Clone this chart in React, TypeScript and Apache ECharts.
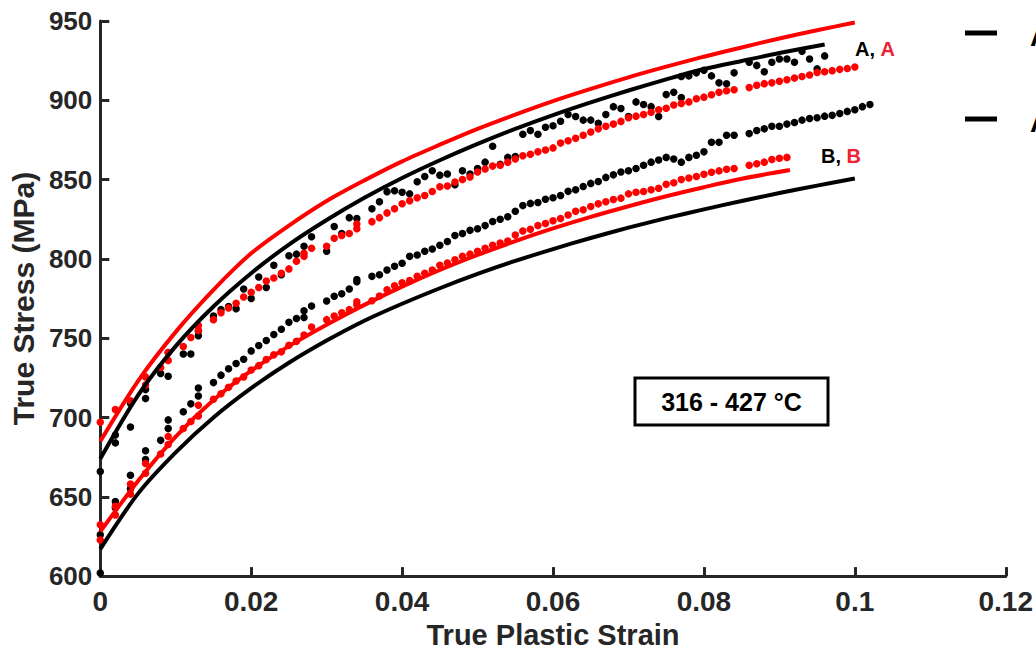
import React, { useEffect, useRef } from "react";
import * as echarts from "echarts";

// Fitted model curves [true plastic strain, true stress MPa]
const fitRedA: [number, number][] = [
  [0, 685], [0.005, 723], [0.01, 754], [0.015, 780.5], [0.02, 803.5], [0.025, 821], [0.03, 836.5],
  [0.035, 849.5], [0.04, 861.5], [0.045, 872], [0.05, 882], [0.055, 891], [0.06, 899.5], [0.065, 907.2],
  [0.07, 914.5], [0.075, 921.2], [0.08, 927.5], [0.085, 933.3], [0.09, 939], [0.095, 944.2], [0.1, 949],
];
const fitBlackA: [number, number][] = [
  [0, 674], [0.005, 714], [0.01, 745], [0.015, 770], [0.02, 791], [0.025, 809], [0.03, 824.5],
  [0.035, 838.5], [0.04, 851], [0.045, 862.2], [0.05, 872.5], [0.055, 882], [0.06, 890.7], [0.065, 898.7],
  [0.07, 906.2], [0.075, 913.2], [0.08, 919.7], [0.085, 924.8], [0.09, 929.8], [0.096, 935.2],
];
const fitRedB: [number, number][] = [
  [0, 628], [0.005, 660], [0.01, 688], [0.015, 711], [0.02, 729.5], [0.025, 745], [0.03, 758.5],
  [0.035, 771], [0.04, 782.5], [0.045, 793], [0.05, 802.5], [0.055, 811.2], [0.06, 819.2], [0.065, 826.5],
  [0.07, 833.2], [0.075, 839.5], [0.08, 845.2], [0.085, 850.5], [0.0914, 856],
];
const fitBlackB: [number, number][] = [
  [0, 617], [0.005, 652], [0.01, 678], [0.015, 700], [0.02, 718.5], [0.025, 734.5], [0.03, 748.5],
  [0.035, 761], [0.04, 771.7], [0.045, 781.5], [0.05, 790.5], [0.055, 798.7], [0.06, 806.2], [0.065, 813.2],
  [0.07, 819.7], [0.075, 825.7], [0.08, 831.2], [0.085, 836.5], [0.09, 841.5], [0.095, 846.2], [0.1, 850.7],
];

// Experimental data points
const expRedA: [number, number][] = [
  [0, 697], [0.002, 705], [0.004, 710.5], [0.006, 720.5], [0.006, 725.6], [0.008, 731.6], [0.009, 736], [0.009, 741],
  [0.011, 744.8], [0.012, 750.4], [0.013, 754.8], [0.013, 758], [0.015, 761.7], [0.016, 766], [0.017, 769], [0.018, 772],
  [0.019, 776], [0.02, 779], [0.021, 782], [0.022, 786], [0.023, 788], [0.024, 791], [0.025, 793.7], [0.026, 798.5],
  [0.027, 801.6], [0.027, 803.6], [0.028, 806.7], [0.03, 808], [0.031, 813], [0.032, 814.8], [0.033, 816], [0.034, 819],
  [0.034, 822], [0.036, 823.5], [0.037, 826], [0.038, 829], [0.039, 831.6], [0.04, 834.8], [0.041, 836.6], [0.042, 838.5],
  [0.043, 840], [0.044, 842.5], [0.045, 845.5], [0.046, 846], [0.047, 848.5], [0.048, 850], [0.049, 851.7], [0.05, 854.8],
  [0.051, 856.7], [0.052, 858.5], [0.053, 859], [0.054, 861], [0.055, 863], [0.056, 865], [0.057, 866], [0.058, 867.5],
  [0.059, 868.7], [0.06, 870], [0.061, 873], [0.062, 874.5], [0.063, 876], [0.064, 878], [0.065, 880], [0.066, 882],
  [0.067, 883.6], [0.068, 885], [0.069, 886.7], [0.07, 889], [0.071, 890], [0.072, 891], [0.073, 892.5], [0.074, 894],
  [0.075, 895], [0.076, 897], [0.077, 898], [0.078, 899], [0.079, 901], [0.08, 902], [0.081, 903.5], [0.082, 905],
  [0.083, 906], [0.084, 906.7], [0.086, 908], [0.087, 909.5], [0.088, 910.5], [0.089, 911], [0.09, 912], [0.091, 913],
  [0.092, 914], [0.093, 915], [0.094, 916], [0.095, 917.5], [0.096, 918], [0.097, 918.7], [0.098, 919.5], [0.099, 920],
  [0.1, 921],
];
const expBlackA: [number, number][] = [
  [0, 666], [0.002, 689], [0.002, 684], [0.004, 694], [0.004, 709], [0.006, 712], [0.006, 717.6], [0.008, 727.7],
  [0.009, 726], [0.009, 741], [0.011, 740], [0.012, 740], [0.013, 751.6], [0.013, 754.6], [0.015, 764], [0.016, 768],
  [0.017, 770], [0.018, 768.6], [0.019, 781], [0.02, 775], [0.021, 788.6], [0.022, 782], [0.023, 796], [0.024, 790],
  [0.025, 802], [0.026, 803], [0.027, 808], [0.028, 814], [0.03, 804.8], [0.031, 820.4], [0.032, 816], [0.033, 826],
  [0.034, 825.4], [0.036, 831.6], [0.037, 836], [0.038, 842.4], [0.039, 843], [0.04, 842], [0.041, 841], [0.042, 848.6],
  [0.043, 852], [0.044, 855.6], [0.045, 852.8], [0.046, 853.5], [0.047, 846.7], [0.048, 855.6], [0.049, 853.5], [0.05, 857],
  [0.051, 861], [0.052, 871], [0.053, 859.6], [0.054, 864], [0.055, 864.6], [0.056, 878.6], [0.057, 881], [0.058, 878.6],
  [0.059, 883], [0.06, 884], [0.061, 886.8], [0.062, 891], [0.063, 889.8], [0.064, 887.5], [0.065, 887.5], [0.066, 885.5],
  [0.067, 891], [0.068, 896], [0.069, 894.8], [0.07, 889.8], [0.071, 899], [0.072, 897.3], [0.073, 896], [0.074, 889.8],
  [0.075, 903.6], [0.076, 905], [0.077, 901.7], [0.077, 915], [0.078, 915.4], [0.079, 917.3], [0.08, 919], [0.081, 915.4],
  [0.082, 911], [0.083, 910.4], [0.084, 917.3], [0.086, 924], [0.087, 922], [0.088, 918], [0.089, 924], [0.09, 926],
  [0.091, 926], [0.092, 924], [0.093, 931], [0.094, 926], [0.095, 919.8], [0.096, 928],
];
const expBlackB: [number, number][] = [
  [0, 626], [0, 602], [0.002, 647], [0.002, 643], [0.004, 663.6], [0.004, 655], [0.006, 679], [0.006, 673.5],
  [0.008, 685.6], [0.009, 698.5], [0.009, 693], [0.011, 703.6], [0.012, 708.6], [0.013, 718.6], [0.013, 713.6], [0.015, 722],
  [0.016, 726.7], [0.017, 730.7], [0.018, 734], [0.019, 736.7], [0.02, 742], [0.021, 745.4], [0.022, 748.5], [0.023, 752.3],
  [0.024, 755.6], [0.025, 760], [0.026, 762.4], [0.027, 767.3], [0.027, 763], [0.028, 770.3], [0.03, 773.5], [0.031, 776.5],
  [0.032, 778], [0.033, 781], [0.034, 785.6], [0.034, 787], [0.036, 789], [0.037, 790], [0.038, 793], [0.039, 795.4],
  [0.04, 797.3], [0.041, 801.6], [0.042, 802.5], [0.043, 804.8], [0.044, 806.2], [0.045, 808.6], [0.046, 811], [0.047, 814.8],
  [0.048, 816], [0.049, 818], [0.05, 819], [0.051, 821], [0.052, 823.6], [0.053, 825], [0.054, 826.6], [0.055, 830],
  [0.056, 833.6], [0.057, 835], [0.058, 835.6], [0.059, 837.6], [0.06, 838.6], [0.061, 840], [0.062, 842.6], [0.063, 843.6],
  [0.064, 845.7], [0.065, 847.6], [0.066, 848.8], [0.067, 851.4], [0.068, 853], [0.069, 854.8], [0.07, 855.6], [0.071, 857],
  [0.072, 859], [0.073, 861], [0.074, 862.4], [0.075, 864], [0.076, 863], [0.077, 861], [0.078, 864], [0.079, 865.4],
  [0.08, 867.5], [0.081, 873.5], [0.082, 873.5], [0.083, 878], [0.084, 878], [0.086, 879], [0.087, 881], [0.088, 882],
  [0.089, 883.6], [0.09, 883.6], [0.091, 885], [0.092, 886], [0.093, 887.5], [0.094, 888.5], [0.095, 889], [0.096, 890],
  [0.097, 890.5], [0.098, 891.7], [0.099, 893], [0.1, 894], [0.101, 896], [0.102, 897.3],
];
const expRedB: [number, number][] = [
  [0, 632.4], [0, 622.8], [0.002, 638.6], [0.002, 644], [0.004, 651.7], [0.004, 658], [0.006, 664.8], [0.006, 671],
  [0.008, 677], [0.009, 683], [0.009, 688], [0.011, 693], [0.012, 697.5], [0.013, 701], [0.013, 707.7], [0.015, 711.5],
  [0.016, 715], [0.017, 719], [0.018, 723], [0.019, 725.6], [0.02, 730], [0.021, 732.7], [0.022, 736.5], [0.023, 739.5],
  [0.024, 741.4], [0.025, 745.5], [0.026, 748], [0.027, 752], [0.028, 757], [0.03, 761.7], [0.031, 764], [0.032, 766],
  [0.033, 768], [0.034, 771], [0.034, 773], [0.036, 773.6], [0.037, 776.6], [0.038, 780.6], [0.039, 783], [0.04, 785],
  [0.041, 786.4], [0.042, 789], [0.043, 791], [0.044, 793], [0.045, 796], [0.046, 797.4], [0.047, 799.4], [0.048, 801.6],
  [0.049, 803], [0.05, 804.8], [0.051, 806.7], [0.052, 808.6], [0.053, 810], [0.054, 811.3], [0.055, 815], [0.056, 817.6],
  [0.057, 818.7], [0.058, 821], [0.059, 822.3], [0.06, 824], [0.061, 825.4], [0.062, 827.7], [0.063, 830], [0.064, 831],
  [0.065, 833], [0.066, 834.7], [0.067, 836], [0.068, 837.4], [0.069, 838.3], [0.07, 841], [0.071, 842], [0.072, 842.5],
  [0.073, 843.6], [0.074, 844.6], [0.075, 847], [0.076, 848], [0.077, 850], [0.078, 851], [0.079, 852], [0.08, 853.4],
  [0.081, 854.6], [0.082, 855.5], [0.083, 856.5], [0.084, 857], [0.086, 859], [0.087, 860], [0.088, 861], [0.089, 862.7],
  [0.09, 863.5], [0.091, 864],
];

const xTitle = "True Plastic Strain";
const yTitle = "True Stress (MPa)";
const boxLabel = "316 - 427 °C";

const AXIS = "#262626";
const RED = "#ff0000";
const FONT = "'Liberation Sans', Arial, sans-serif";

export default function App() {
  const ref = useRef<HTMLDivElement>(null);
  useEffect(() => {
    if (!ref.current) return;
    const chart = echarts.init(ref.current, null, { renderer: "svg" });
    const lineSeries = (data: [number, number][], color: string) => ({
      type: "line",
      data,
      smooth: 0.3,
      showSymbol: false,
      symbol: "none",
      lineStyle: { color, width: 4 },
      z: 3,
    });
    const dotSeries = (data: [number, number][], color: string) => ({
      type: "scatter",
      data,
      symbol: "circle",
      symbolSize: 7.5,
      itemStyle: { color, opacity: 1 },
      z: 2,
    });
    chart.setOption({
      animation: false,
      backgroundColor: "#ffffff",
      grid: { left: 99, right: 30, top: 21, bottom: 73 },
      xAxis: {
        type: "value",
        min: 0,
        max: 0.12,
        interval: 0.02,
        name: xTitle,
        nameLocation: "middle",
        nameGap: 42,
        nameTextStyle: { color: AXIS, fontSize: 29, fontWeight: "bold", fontFamily: FONT },
        axisLine: { show: true, onZero: false, lineStyle: { color: AXIS, width: 3 } },
        axisTick: { show: true, inside: true, length: 9, lineStyle: { color: AXIS, width: 3 } },
        splitLine: { show: false },
        axisLabel: {
          color: AXIS,
          fontSize: 28,
          fontWeight: "bold",
          fontFamily: FONT,
          margin: 11,
          formatter: (v: number) => String(Number(v.toFixed(2))),
        },
      },
      yAxis: {
        type: "value",
        min: 600,
        max: 950,
        interval: 50,
        name: yTitle,
        nameLocation: "middle",
        nameGap: 59,
        nameTextStyle: { color: AXIS, fontSize: 30, fontWeight: "bold", fontFamily: FONT },
        axisLine: { show: true, onZero: false, lineStyle: { color: AXIS, width: 3 } },
        axisTick: { show: true, inside: true, length: 9, lineStyle: { color: AXIS, width: 3 } },
        splitLine: { show: false },
        axisLabel: { color: AXIS, fontSize: 26, fontWeight: "bold", fontFamily: FONT, margin: 8 },
      },
      series: [
        dotSeries(expBlackA, "#000000"),
        dotSeries(expRedA, RED),
        dotSeries(expBlackB, "#000000"),
        dotSeries(expRedB, RED),
        lineSeries(fitRedA, RED),
        lineSeries(fitBlackA, "#000000"),
        lineSeries(fitRedB, RED),
        lineSeries(fitBlackB, "#000000"),
      ],
      graphic: [
        {
          type: "rect",
          shape: { x: 635, y: 378, width: 193, height: 47 },
          style: { fill: "#ffffff", stroke: "#000000", lineWidth: 3 },
          z: 10,
        },
        {
          type: "text",
          x: 731.5,
          y: 402,
          style: {
            text: boxLabel,
            fill: "#000000",
            font: `bold 25px ${FONT}`,
            align: "center",
            verticalAlign: "middle",
          },
          z: 11,
        },
        {
          type: "text",
          x: 855,
          y: 49,
          style: {
            text: "{k|A, }{r|A}",
            font: `bold 20px ${FONT}`,
            verticalAlign: "middle",
            rich: {
              k: { fill: "#000000", font: `bold 20px ${FONT}` },
              r: { fill: "#ee2233", font: `bold 20px ${FONT}` },
            },
          },
          z: 11,
        },
        {
          type: "text",
          x: 821,
          y: 156,
          style: {
            text: "{k|B, }{r|B}",
            font: `bold 20px ${FONT}`,
            verticalAlign: "middle",
            rich: {
              k: { fill: "#000000", font: `bold 20px ${FONT}` },
              r: { fill: "#ee2233", font: `bold 20px ${FONT}` },
            },
          },
          z: 11,
        },
        {
          type: "line",
          shape: { x1: 965, y1: 33, x2: 997, y2: 33 },
          style: { stroke: "#000000", lineWidth: 5 },
        },
        {
          type: "line",
          shape: { x1: 965, y1: 119, x2: 997, y2: 119 },
          style: { stroke: "#000000", lineWidth: 5 },
        },
        {
          type: "text",
          x: 1030,
          y: 36,
          style: { text: "A", fill: "#000000", font: `bold 28px ${FONT}`, verticalAlign: "middle" },
        },
        {
          type: "text",
          x: 1030,
          y: 122,
          style: { text: "A", fill: "#000000", font: `bold 28px ${FONT}`, verticalAlign: "middle" },
        },
      ],
    });
    return () => chart.dispose();
  }, []);
  return (
    <div
      ref={ref}
      style={{ position: "fixed", left: 0, top: 0, width: 1036, height: 654, background: "#fff" }}
    />
  );
}
